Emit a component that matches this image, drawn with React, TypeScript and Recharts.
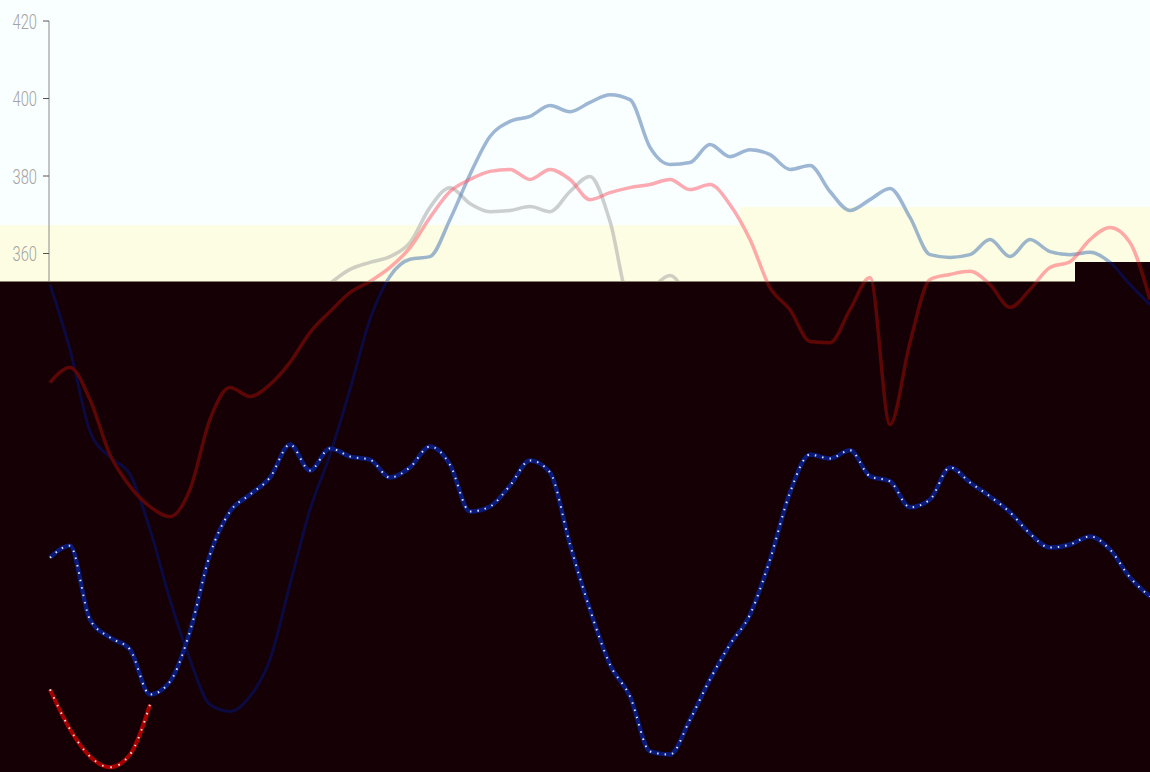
import React from 'react';
import { LineChart, Line, XAxis, YAxis } from 'recharts';

// sample index (0..55), evenly spaced along the x axis
const steps = Array.from({ length: 56 }, (_, i) => i);

const blueSeries = [
  352.0, 335.2, 314.1, 307.4, 303.0, 288.8, 270.7, 255.2, 243.6, 241.8,
  245.7, 255.2, 274.6, 293.9, 308.1, 324.9, 343.0, 354.1, 358.5, 359.2,
  368.8, 380.4, 390.2, 394.1, 395.4, 398.2, 396.6, 399.0, 401.0, 399.7,
  387.4, 383.0, 383.5, 388.1, 385.0, 386.8, 385.5, 381.7, 382.7, 376.0,
  371.1, 373.9, 376.8, 369.3, 359.7, 359.0, 359.7, 363.6, 359.2, 363.6,
  360.5, 359.7, 360.3, 357.7, 352.0, 346.8,
];

const pinkSeries = [
  326.7, 330.6, 322.3, 308.1, 299.9, 294.7, 292.1, 299.1, 317.2, 325.4,
  323.1, 326.2, 331.9, 339.6, 345.0, 349.9, 352.8, 356.4, 361.5, 369.3,
  376.0, 379.1, 381.2, 381.7, 379.1, 381.7, 379.1, 373.9, 375.7, 377.0,
  377.8, 379.1, 376.5, 377.8, 372.6, 363.6, 351.2, 345.5, 337.3, 337.0,
  345.5, 353.8, 315.9, 337.0, 353.3, 354.6, 355.4, 352.0, 346.1, 350.7,
  356.4, 357.9, 363.6, 366.7, 362.8, 348.1,
];

const greySeries: (number | null)[] = [
  null, null, null, null, null, null, null, null, null, null,
  null, null, null, 348.1, 352.3, 355.9, 357.7, 359.2, 362.8, 371.9,
  377.0, 372.9, 370.8, 371.1, 372.1, 370.8, 376.0, 379.9, 368.3, 348.1,
  350.7, 354.3, 346.8, null, null, null, null, null, null, null,
  null, null, null, null, null, null, null, null, null, null,
  null, null, null, null, null, null,
];

const navySeries = [
  281.5, 284.6, 265.5, 260.9, 257.8, 246.2, 249.5, 262.5, 282.3, 293.4,
  297.8, 302.2, 310.7, 304.0, 309.7, 307.6, 306.8, 302.2, 304.8, 310.2,
  305.5, 293.4, 294.7, 300.1, 306.6, 303.5, 284.9, 268.1, 253.9, 245.7,
  231.5, 230.7, 239.7, 250.1, 259.1, 266.8, 281.0, 298.3, 308.1, 307.1,
  309.2, 302.5, 301.2, 294.5, 296.5, 304.8, 300.9, 297.3, 293.2, 287.7,
  284.1, 284.9, 287.0, 283.6, 276.4, 271.5,
];

const redSeries: (number | null)[] = [
  247.5, 237.2, 230.2, 227.4, 230.7, 243.6,
  ...Array(50).fill(null),
];

const yTicks = [360, 380, 400, 420];

const data = steps.map((t, i) => ({
  t,
  blue: blueSeries[i],
  pink: pinkSeries[i],
  grey: greySeries[i],
  navy: navySeries[i],
  red: redSeries[i],
}));

const W = 1150;
const H = 801;

const lightClip = 'polygon(0 0, 1150px 0, 1150px 262px, 1075px 262px, 1075px 282px, 0 282px)';
const darkClip = 'polygon(0 282px, 1075px 282px, 1075px 262px, 1150px 262px, 1150px 772px, 0 772px)';
const bandClip = 'polygon(0 225px, 740px 225px, 740px 207px, 1150px 207px, 1150px 282px, 0 282px)';

// narrow tick label, squeezed horizontally like the original condensed face
const NarrowTick = (props: any) => {
  const { x, y, payload } = props;
  return (
    <g transform={`translate(${x},${y}) scale(0.7,1)`}>
      <text x={0} y={0} dy="0.36em" textAnchor="end" fill="#a3a3a3" fontSize={21} fontFamily="Roboto, sans-serif" fontWeight={300}>
        {payload.value}
      </text>
    </g>
  );
};

const Chart: React.FC<{ dark: boolean }> = ({ dark }) => (
  <LineChart width={W} height={H} data={data} margin={{ top: 21, right: 0, bottom: 5, left: 0 }}>
    <XAxis dataKey="t" type="number" domain={[-0.05, 55]} hide />
    <YAxis
      type="number"
      domain={[220, 420]}
      ticks={yTicks}
      width={49}
      axisLine={dark ? false : { stroke: '#8a8a8a' }}
      tickLine={dark ? false : { stroke: '#555' }}
      tickSize={6}
      tickMargin={6}
      tick={dark ? false : <NarrowTick />}
    />
    {dark ? (
      <>
        <Line type="monotone" dataKey="blue" stroke="#0b0b42" strokeWidth={3} dot={false} isAnimationActive={false} />
        <Line type="monotone" dataKey="pink" stroke="#5c0606" strokeWidth={3.5} dot={false} isAnimationActive={false} />
        <Line type="monotone" dataKey="navy" stroke="#0a1a78" strokeWidth={4.5} dot={false} isAnimationActive={false} />
        <Line type="monotone" dataKey="navy" stroke="#dfe2f5" strokeWidth={2} strokeDasharray="1.5 6" dot={false} isAnimationActive={false} />
        <Line type="monotone" dataKey="red" stroke="#a80000" strokeWidth={4} dot={false} isAnimationActive={false} />
        <Line type="monotone" dataKey="red" stroke="#f5dede" strokeWidth={2} strokeDasharray="1.5 7" dot={false} isAnimationActive={false} />
      </>
    ) : (
      <>
        <Line type="monotone" dataKey="grey" stroke="#a0a0a0" strokeOpacity={0.5} strokeWidth={3.5} dot={false} isAnimationActive={false} />
        <Line type="monotone" dataKey="blue" stroke="#5d86b8" strokeOpacity={0.6} strokeWidth={3.5} dot={false} isAnimationActive={false} />
        <Line type="monotone" dataKey="pink" stroke="#ff5566" strokeOpacity={0.5} strokeWidth={3.5} dot={false} isAnimationActive={false} />
      </>
    )}
  </LineChart>
);

export default function App() {
  return (
    <div style={{ position: 'absolute', left: 0, top: 0, width: W, height: 772, overflow: 'hidden' }}>
      <div style={{ position: 'absolute', left: 0, top: 0, width: W, height: 772, clipPath: lightClip, background: '#f9feff' }}>
        <div style={{ position: 'absolute', left: 0, top: 0, width: W, height: 772, clipPath: bandClip, background: '#fdfde4' }} />
        <div style={{ position: 'absolute', left: 0, top: 0 }}>
          <Chart dark={false} />
        </div>
        <div style={{ position: 'absolute', left: 0, top: 281, width: 1075, height: 1, background: '#8c7f6e' }} />
      </div>
      <div style={{ position: 'absolute', left: 0, top: 0, width: W, height: 772, clipPath: darkClip, background: '#150006' }}>
        <div style={{ position: 'absolute', left: 0, top: 0 }}>
          <Chart dark />
        </div>
      </div>
    </div>
  );
}
